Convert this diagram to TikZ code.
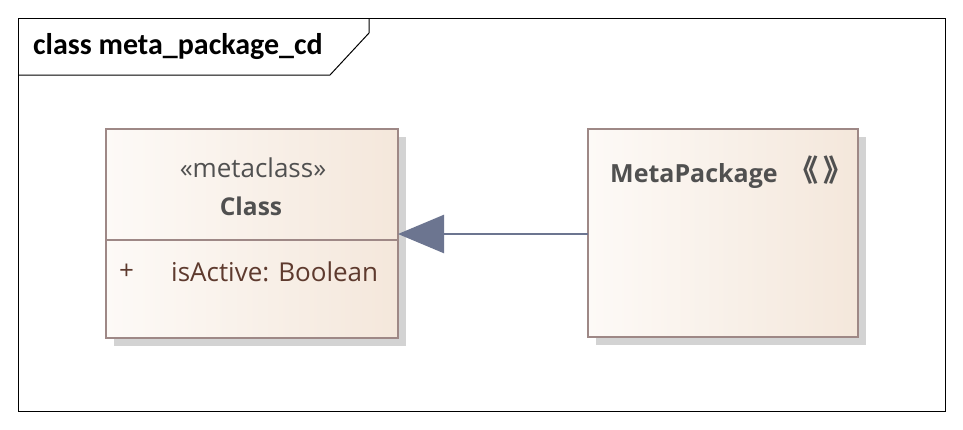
\documentclass[tikz,border=0pt]{standalone}
\usepackage{fontspec}
\setmainfont{Open Sans}
\newfontfamily\titlefont{Carlito}
\newfontfamily\cjk{Noto Sans CJK SC}
\usetikzlibrary{arrows.meta}
\definecolor{boxborder}{HTML}{9E8886}
\definecolor{fillL}{HTML}{FDFAF7}
\definecolor{fillR}{HTML}{F4E7DB}
\definecolor{shadowc}{HTML}{D3D3D3}
\definecolor{txtgrey}{HTML}{505050}
\definecolor{attrc}{HTML}{5E3A2E}
\definecolor{arrowc}{HTML}{6C7590}
\tikzset{
  umlbox/.style={draw=boxborder, line width=2.8pt, left color=fillL, right color=fillR, shading angle=90},
  lbl/.style={inner sep=0pt, text=txtgrey},
}
\begin{document}
\begin{tikzpicture}[x=1pt,y=-1pt]
\useasboundingbox (0,0) rectangle (963,429);
\fill[white] (0,0) rectangle (963,429);
% frame
\draw[line width=1pt] (18,18) rectangle (945,411);
\draw[line width=1pt] (18,75) -- (330,75) -- (369,33) -- (369,18);
\node[inner sep=0pt, anchor=west, font=\titlefont\bfseries\fontsize{30}{34}\selectfont] (title) at (33,47) {class meta\_package\_cd};
% Class box
\fill[shadowc] (114,137) rectangle (406,346);
\path[umlbox] (106,129) rectangle (398,338);
\draw[boxborder, line width=2.8pt] (106,240) -- (398,240);
\coordinate (classE) at (398,234);
\node[lbl, font=\fontsize{26}{30}\selectfont] (stereo) at (253,168) {«metaclass»};
\node[lbl, font=\bfseries\fontsize{24.5}{28}\selectfont] (cname) at (251,206) {Class};
\node[lbl, text=attrc, anchor=west, font=\fontsize{26}{30}\selectfont] (plus) at (119,272) {+};
\node[lbl, text=attrc, anchor=west, font=\fontsize{26}{30}\selectfont] (attr) at (171,272) {isActive: Boolean};
% MetaPackage box
\fill[shadowc] (596,137) rectangle (866,345);
\path[umlbox] (588,129) rectangle (858,337);
\coordinate (metaW) at (588,234);
\node[lbl, anchor=west, font=\bfseries\fontsize{25}{29}\selectfont] (mname) at (610,176) {MetaPackage};
\node[lbl, font=\cjk\bfseries\fontsize{30}{34}\selectfont] (mark) at (821,170) {《\kern5pt》};
% generalization
\draw[arrowc, line width=2.5pt, -{Triangle[length=46pt, width=38pt, fill=arrowc]}] (metaW) -- (classE);
\end{tikzpicture}
\end{document}
